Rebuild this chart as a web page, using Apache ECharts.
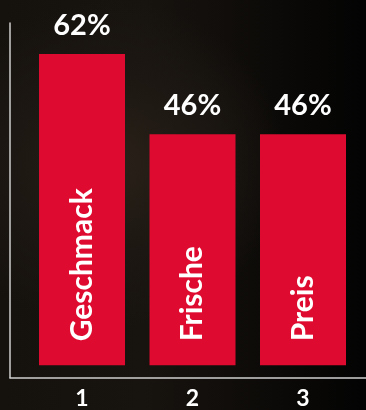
<!DOCTYPE html>
<html>
<head>
<meta charset="utf-8">
<script src="https://cdn.jsdelivr.net/npm/echarts@6/dist/echarts.min.js"></script>
<style>
  html, body { margin: 0; padding: 0; }
  body {
    width: 366px; height: 410px; overflow: hidden;
    background:
      radial-gradient(ellipse 60% 50% at 30% 40%, #2a2119 0%, #1c1712 45%, rgba(10,8,6,0) 80%),
      linear-gradient(to right, #15110d 0%, #17130f 40%, #0c0a08 75%, #030303 100%);
  }
  #chart { width: 366px; height: 410px; }
</style>
</head>
<body>
<div id="chart"></div>
<script>
const categories = ['1', '2', '3'];
const barNames = ['Geschmack', 'Frische', 'Preis'];
const values = [62, 46, 46];

const chart = echarts.init(document.getElementById('chart'), null, { renderer: 'canvas' });
const FONT = 'Lato, "Liberation Sans", sans-serif';
const axisColor = '#cfcfcf';

chart.setOption({
  backgroundColor: 'transparent',
  animation: false,
  grid: [
    { left: 26.75, right: 7.75, top: 23, bottom: 32.3 },
    { left: 10, right: 0, top: 23, bottom: 32.3 }
  ],
  xAxis: [
    {
      type: 'category', gridIndex: 0, data: categories,
      axisLine: { show: false, onZero: false },
      axisTick: { show: false },
      axisLabel: { color: '#ffffff', fontFamily: FONT, fontWeight: 'bold', fontSize: 23, margin: 10 },
      splitLine: { show: false }
    },
    {
      type: 'value', gridIndex: 1, min: 0, max: 1,
      axisLine: { show: true, lineStyle: { color: axisColor, width: 1.5 } },
      axisTick: { show: false }, axisLabel: { show: false }, splitLine: { show: false }
    }
  ],
  yAxis: [
    {
      type: 'value', gridIndex: 0, min: -2.325, max: 68.16,
      show: false, splitLine: { show: false }
    },
    {
      type: 'value', gridIndex: 1, min: 0, max: 1,
      axisLine: { show: true, lineStyle: { color: axisColor, width: 1.5 } },
      axisTick: { show: false }, axisLabel: { show: false }, splitLine: { show: false }
    }
  ],
  series: [
    {
      type: 'bar', xAxisIndex: 0, yAxisIndex: 0,
      data: values, barWidth: 86,
      itemStyle: { color: '#df0a2f' },
      label: {
        show: true, position: 'top', distance: 14,
        formatter: '{c}%', color: '#ffffff',
        fontFamily: FONT, fontWeight: 'bold', fontSize: 29
      }
    },
    {
      type: 'bar', xAxisIndex: 0, yAxisIndex: 0,
      data: values, barWidth: 86, barGap: '-100%',
      itemStyle: { color: 'rgba(0,0,0,0)' },
      label: {
        show: true, position: 'insideBottom', distance: 24,
        rotate: 90, align: 'left', verticalAlign: 'middle',
        formatter: function (p) { return barNames[p.dataIndex]; },
        color: '#ffffff', fontFamily: FONT, fontWeight: 'bold', fontSize: 30
      }
    }
  ]
});
</script>
</body>
</html>
